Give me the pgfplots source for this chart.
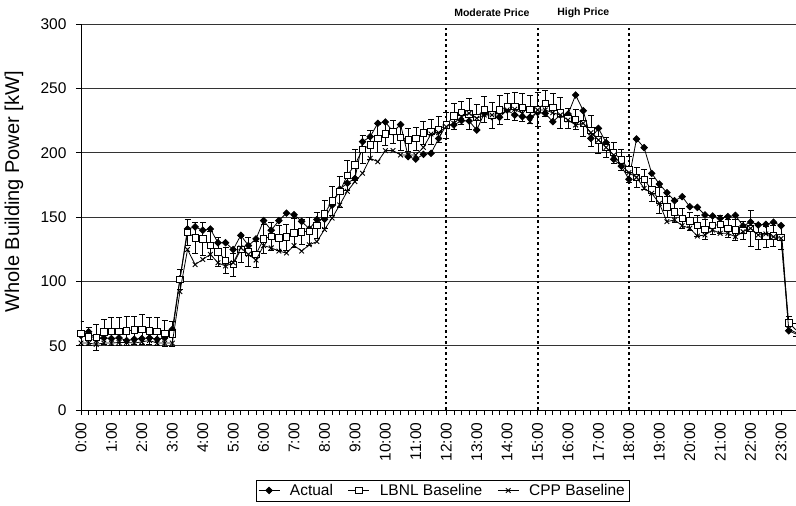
\documentclass[border=0pt]{standalone}
\usepackage{fontspec}
\setmainfont{Liberation Sans}
\usepackage{pgfplots}
\pgfplotsset{compat=1.18}
\usepackage{pgfplotstable}

\pgfplotstableread{
t act lbnl err cpp
0.00 58 59.5 9.5 52
0.25 60.8 56.9 7 52
0.50 55 56.4 10 51
0.75 56 60.8 10 52
1.00 55.5 61.3 10.7 52
1.25 56 61.3 11 52.5
1.50 54 61.6 11 52.5
1.75 55 62.1 11 52
2.00 55.5 62.6 11.7 53
2.25 56 61.6 10.5 54
2.50 55 61.1 11 52
2.75 56 59.5 10 52
3.00 62.6 59.2 10 52
3.25 102 101.5 8 92
3.50 140.7 138.1 10 124.7
3.75 142.3 133.8 12 113
4.00 139.7 133 13 117
4.25 140.7 128 11 121
4.50 130 123 11 114.4
4.75 130 116.5 10 111.9
5.00 124.7 113 9 114.4
5.25 135.8 124.7 10 126
5.50 127.8 123 11 121
5.75 133 121 10 116.5
6.00 147.2 133 11 127.8
6.25 139.7 135 11 126
6.50 147.2 133.8 10 123.5
6.75 153 134.5 10 122
7.00 151.8 137.6 11 127.8
7.25 146.6 138.5 10 123.5
7.50 140.7 139 11 128.4
7.75 148 143.3 10 130.9
8.00 148.3 152.3 11 140.3
8.25 159.2 162.5 11 149.2
8.50 171.6 169.7 12 159.4
8.75 176.3 182.4 12 170
9.00 180 190.5 12 177.5
9.25 208.5 202.7 11 184
9.50 212.4 206 11 195.6
9.75 222.8 211 11 193
10.00 223.8 214.5 9 201.6
10.25 216.3 216.3 9 201.6
10.50 221.8 211.9 10 198.2
10.75 196.9 209.8 9 198.2
11.00 195 211 9 198.2
11.25 198.7 215.5 9 204.1
11.50 199.5 216.3 10 214.5
11.75 211 218 10 215.5
12.00 221.5 221.5 10 220.2
12.25 221.5 228.5 10 222.8
12.50 224.9 231.3 9 228
12.75 224.6 230 12 230.6
13.00 217.6 227.5 10 226.7
13.25 230.6 233.7 10 229.3
13.50 228 229.3 10 229.3
13.75 227.5 233.2 11 229.3
14.00 233.2 235.8 10 233.2
14.25 229.3 235.8 11 233.7
14.50 228 235 11 230.6
14.75 227.5 233.7 11 224.1
15.00 231.3 233.7 13 233.2
15.25 230.6 238.3 10 233.2
15.50 224.1 235 11 231
15.75 229.3 231 12 229.3
16.00 230 226.7 8 225.4
16.25 244.8 225.9 8 221.5
16.50 232.6 222.8 10 222.8
16.75 211.1 217.1 12 215.5
17.00 218.9 209.8 10 209.8
17.25 207.8 204.1 8 204.1
17.50 194.8 200 8 198.2
17.75 189.6 194.3 8 190.4
18.00 179.3 187 10 184.5
18.25 210.6 180.8 8 180.8
18.50 203.9 179.3 8 172.3
18.75 183.9 171 9 168.4
19.00 175.6 163.2 10 160.6
19.25 168.9 158 8 146.4
19.50 162.7 154.1 8 147.7
19.75 165.8 149 8 143.3
20.00 158 146.9 7 141.2
20.25 157.5 143.3 8 135.2
20.50 151.6 140.4 8 136
20.75 150.8 143.3 7 139.9
21.00 149 144.3 7 137.3
21.25 150.3 141.2 7 137.3
21.50 151.3 139.9 8 134.7
21.75 143 139.4 7 138.6
22.00 146.1 141.2 14 141.2
22.25 143.8 135.2 10 136
22.50 144.3 134.7 8 136.8
22.75 145.9 135.2 8 134.7
23.00 143.3 134.2 9 133.4
23.25 61.6 67.8 5 63
23.50 59 62 5 60
23.75 58 60 5 59
}\data

\begin{document}
\begin{tikzpicture}
\begin{axis}[
  at={(0pt,0pt)}, anchor=south west,
  scale only axis, width=715pt, height=386pt,
  xmin=0, xmax=23.49, ymin=0, ymax=300,
  axis x line*=bottom, axis y line*=left,
  axis line style={-, line width=0.8pt},
  clip mode=individual,
  xtick={0,1,...,23},
  xticklabels={0:00,1:00,2:00,3:00,4:00,5:00,6:00,7:00,8:00,9:00,10:00,11:00,12:00,13:00,14:00,15:00,16:00,17:00,18:00,19:00,20:00,21:00,22:00,23:00},
  minor x tick num=3,
  ytick={0,50,...,300},
  tick align=outside, major tick length=5pt, minor tick length=5pt,
  tick style={black, line width=0.7pt},
  ymajorgrids, grid style={black!80, line width=0.7pt},
  /pgf/number format/assume math mode=true,
  ticklabel style={font=\fontsize{15.5}{18}\selectfont},
  xticklabel style={rotate=90, anchor=east, xshift=-4pt},
  yticklabel style={xshift=-6pt},
  ylabel={Whole Building Power [kW]},
  every axis y label/.style={at={(axis description cs:-0.0937,0.565)}, rotate=90, anchor=center, font=\fontsize{20}{24}\selectfont},
  legend style={at={(axis description cs:0.5056,-0.2085)}, anchor=center, legend columns=3, draw=black, line width=0.6pt, font=\fontsize{15.5}{18}\selectfont, inner sep=2pt,
    /tikz/every odd column/.append style={column sep=8pt},
    /tikz/every even column/.append style={column sep=13pt}},
  legend image code/.code={\draw[mark repeat=2,mark phase=2,#1] plot coordinates {(0pt,0pt) (10.5pt,0pt) (21pt,0pt)};},
]
\addplot[black, line width=1.9pt, dash pattern=on 2.5pt off 3pt, forget plot] coordinates {(12,0) (12,299)};
\addplot[black, line width=1.9pt, dash pattern=on 2.5pt off 3pt, forget plot] coordinates {(15,0) (15,299)};
\addplot[black, line width=1.9pt, dash pattern=on 2.5pt off 3pt, forget plot] coordinates {(18,0) (18,299)};

\addplot[black, line width=0.8pt, mark=square*, mark size=2.3pt, mark options={rotate=45, solid, fill=black}] table[x=t,y=act] {\data};
\addlegendentry{Actual}
\addplot[black, line width=0.8pt, mark=square*, mark size=3.2pt, mark options={solid, fill=white},
  error bars/.cd, y dir=both, y explicit, error bar style={line width=0.6pt, black},
  error mark options={rotate=90, mark size=3pt, line width=0.6pt, black}] table[x=t,y=lbnl,y error=err] {\data};
\addlegendentry{LBNL Baseline}
\addplot[black, line width=0.8pt, mark=x, mark size=3.3pt, mark options={solid, line width=0.9pt}] table[x=t,y=cpp] {\data};
\addlegendentry{CPP Baseline}

\node[font=\bfseries\fontsize{10.5}{12}\selectfont] at (axis cs:13.5,308.5) {Moderate Price};
\node[font=\bfseries\fontsize{10.5}{12}\selectfont] at (axis cs:16.5,308.5) {High Price};
\end{axis}
\pgfresetboundingbox
\useasboundingbox (-81pt,-96pt) rectangle (715pt,410pt);
\end{tikzpicture}
\end{document}
